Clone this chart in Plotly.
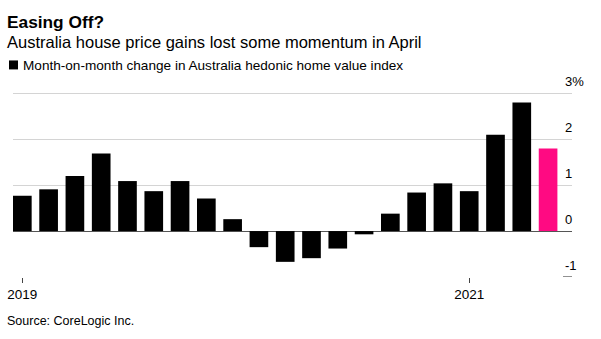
import plotly.graph_objects as go

# Monthly change in the CoreLogic hedonic home value index, Aug 2019 - Apr 2021 (%)
months = [
    "2019-08", "2019-09", "2019-10", "2019-11", "2019-12",
    "2020-01", "2020-02", "2020-03", "2020-04", "2020-05", "2020-06",
    "2020-07", "2020-08", "2020-09", "2020-10", "2020-11", "2020-12",
    "2021-01", "2021-02", "2021-03", "2021-04",
]
mom_change = [
    0.77, 0.91, 1.20, 1.69, 1.09,
    0.87, 1.09, 0.71, 0.26, -0.35, -0.67,
    -0.59, -0.38, -0.07, 0.38, 0.84, 1.04,
    0.87, 2.10, 2.80, 1.80,
]
highlight_month = "2021-04"

x_tick_vals = ["2019-08", "2021-01"]
x_tick_text = ["2019", "2021"]
y_tick_vals = [-1, 0, 1, 2, 3]
y_tick_text = ["-1", "0", "1", "2", "3%"]

FONT = "Liberation Sans, Arial, Helvetica, sans-serif"
BAR = "#000000"
PINK = "#ff0a82"

# value axis: a little headroom above 3 so the top gridline is kept
Y_MIN, Y_MAX = -1, 3.03
PX_PER_UNIT = 46.0

W, H = 601, 339
M_L, M_R, M_B = 13, 29, 62
M_T = H - M_B - (Y_MAX - Y_MIN) * PX_PER_UNIT
PLOT_W = W - M_L - M_R
PLOT_H = H - M_T - M_B


def px_x(px):
    return (px - M_L) / PLOT_W


def px_y(py):
    return (H - M_B - py) / PLOT_H


colors = [PINK if m == highlight_month else BAR for m in months]

fig = go.Figure(
    go.Bar(
        x=months,
        y=mom_change,
        marker=dict(color=colors, line=dict(width=0)),
        hoverinfo="x+y",
    )
)

annotations = [
    dict(text="<b>Easing Off?</b>", x=px_x(5), y=px_y(21), font=dict(size=17.3)),
    dict(text="Australia house price gains lost some momentum in April",
         x=px_x(5), y=px_y(41.5), font=dict(size=16.5)),
    dict(text="Month-on-month change in Australia hedonic home value index",
         x=px_x(21), y=px_y(65), font=dict(size=13.6)),
    dict(text="Source: CoreLogic Inc.", x=px_x(5), y=px_y(321), font=dict(size=12.5)),
]
for a in annotations:
    a.update(xref="paper", yref="paper", xanchor="left", yanchor="middle",
             showarrow=False)

# value labels sit just above their gridlines on the right
for v, t in zip(y_tick_vals, y_tick_text):
    annotations.append(dict(
        text=t, xref="paper", yref="y", x=px_x(563), y=v, yshift=12,
        xanchor="left", yanchor="middle", showarrow=False,
        font=dict(size=13),
    ))

shapes = [
    # legend swatch
    dict(type="rect", xref="paper", yref="paper",
         x0=px_x(9), x1=px_x(18), y0=px_y(69), y1=px_y(60),
         fillcolor=BAR, line=dict(width=0)),
    # short rule under the lowest value label
    dict(type="line", xref="paper", yref="y",
         x0=px_x(563), x1=px_x(572), y0=-1, y1=-1,
         line=dict(color="#222222", width=1)),
]

fig.update_layout(
    width=W, height=H,
    margin=dict(l=M_L, r=M_R, t=M_T, b=M_B, pad=0, autoexpand=False),
    paper_bgcolor="white", plot_bgcolor="white",
    font=dict(family=FONT, color="#000000"),
    showlegend=False,
    bargap=0.29,
    annotations=annotations,
    shapes=shapes,
    xaxis=dict(
        type="category",
        range=[-0.355, len(months) - 1 + 0.91],
        tickmode="array", tickvals=x_tick_vals, ticktext=x_tick_text,
        ticks="outside", ticklen=5, tickwidth=1, tickcolor="#444444",
        tickfont=dict(size=13.5),
        showgrid=False, zeroline=False, showline=False,
        automargin=False, fixedrange=True,
    ),
    yaxis=dict(
        range=[Y_MIN, Y_MAX],
        tickmode="array", tickvals=[1, 2, 3],
        showticklabels=False,
        showgrid=True, gridcolor="#d4d4d4", gridwidth=1,
        zeroline=True, zerolinecolor="#555555", zerolinewidth=1,
        showline=False, automargin=False, fixedrange=True,
    ),
)

fig.write_html("out.html")
